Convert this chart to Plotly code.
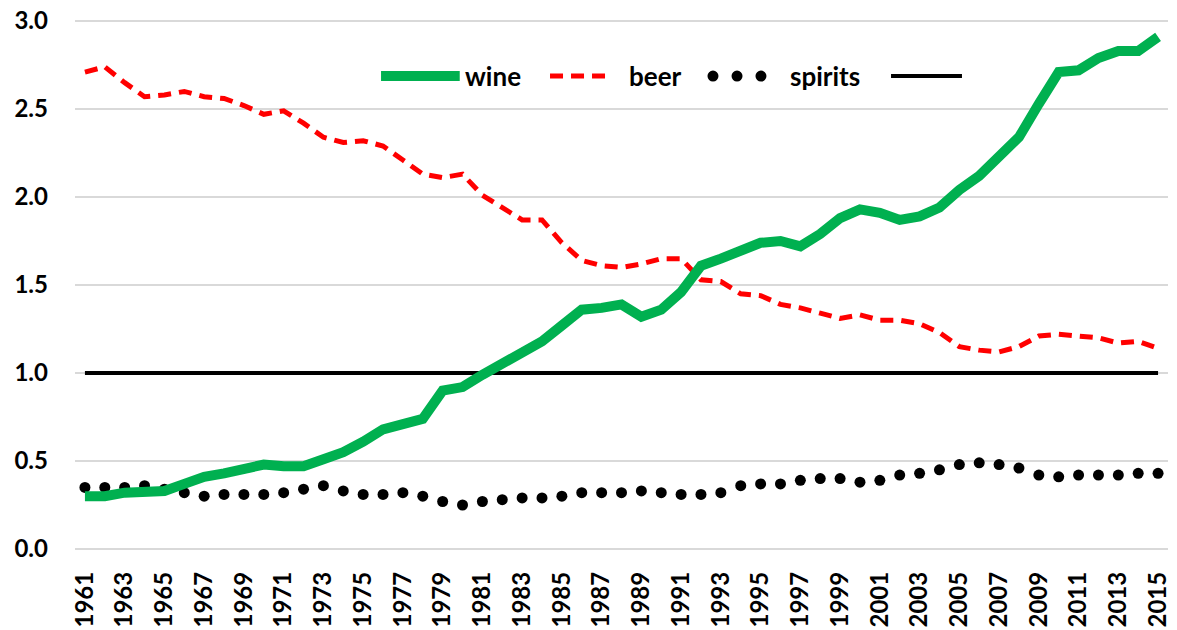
import plotly.graph_objects as go

years = list(range(1961, 2016))

wine = [0.30, 0.30, 0.32, 0.33, 0.33, 0.37, 0.41, 0.43, 0.46, 0.48,
        0.47, 0.47, 0.51, 0.55, 0.61, 0.68, 0.71, 0.74, 0.90, 0.92,
        0.99, 1.05, 1.11, 1.18, 1.27, 1.36, 1.37, 1.39, 1.32, 1.36,
        1.46, 1.61, 1.65, 1.69, 1.74, 1.75, 1.72, 1.79, 1.88, 1.93,
        1.91, 1.87, 1.89, 1.94, 2.04, 2.12, 2.24, 2.34, 2.53, 2.71,
        2.72, 2.79, 2.83, 2.83, 2.91]

beer = [2.71, 2.74, 2.65, 2.57, 2.58, 2.60, 2.57, 2.56, 2.52, 2.47,
        2.49, 2.42, 2.34, 2.31, 2.32, 2.29, 2.21, 2.13, 2.11, 2.13,
        2.01, 1.94, 1.87, 1.87, 1.74, 1.64, 1.61, 1.60, 1.62, 1.65,
        1.65, 1.53, 1.52, 1.45, 1.44, 1.39, 1.37, 1.34, 1.31, 1.33,
        1.30, 1.30, 1.28, 1.23, 1.15, 1.13, 1.12, 1.15, 1.21, 1.22,
        1.21, 1.20, 1.17, 1.18, 1.14]

spirits = [0.35, 0.35, 0.35, 0.36, 0.34, 0.32, 0.30, 0.31, 0.31, 0.31,
           0.32, 0.34, 0.36, 0.33, 0.31, 0.31, 0.32, 0.30, 0.27, 0.25,
           0.27, 0.28, 0.29, 0.29, 0.30, 0.32, 0.32, 0.32, 0.33, 0.32,
           0.31, 0.31, 0.32, 0.36, 0.37, 0.37, 0.39, 0.40, 0.40, 0.38,
           0.39, 0.42, 0.43, 0.45, 0.48, 0.49, 0.48, 0.46, 0.42, 0.41,
           0.42, 0.42, 0.42, 0.43, 0.43]

reference = [1.0] * len(years)

series_names = ["wine", "beer", "spirits", ""]

font_family = "Lato, 'Open Sans', sans-serif"
GREEN = "#00b050"
RED = "#ff0000"

fig = go.Figure()
fig.add_trace(go.Scatter(x=years, y=reference, mode="lines", name=" ",
                         line=dict(color="black", width=4)))
fig.add_trace(go.Scatter(x=years, y=spirits, mode="markers", name=series_names[2],
                         marker=dict(color="black", size=11)))
fig.add_trace(go.Scatter(x=years, y=beer, mode="lines", name=series_names[1],
                         line=dict(color=RED, width=5, dash="13px,8px")))
fig.add_trace(go.Scatter(x=years, y=wine, mode="lines", name=series_names[0],
                         line=dict(color=GREEN, width=10)))

# hand-drawn legend (long symbols like the original)
ly = 0.894
shapes = [
    dict(type="line", xref="paper", yref="paper", x0=0.280, x1=0.352, y0=ly, y1=ly,
         line=dict(color=GREEN, width=10)),
    dict(type="line", xref="paper", yref="paper", x0=0.4346, x1=0.4922, y0=ly, y1=ly,
         line=dict(color=RED, width=5, dash="13px,8px")),
    dict(type="line", xref="paper", yref="paper", x0=0.7466, x1=0.8115, y0=ly, y1=ly,
         line=dict(color="black", width=4)),
]
for dx in [0.5837, 0.6057, 0.6276]:
    shapes.append(dict(type="circle", xref="paper", yref="paper",
                       xsizemode="pixel", ysizemode="pixel",
                       xanchor=dx, yanchor=ly, x0=-5.5, x1=5.5, y0=-5.5, y1=5.5,
                       fillcolor="black", line=dict(width=0)))
annotations = []
for name, tx in zip(series_names[:3], [0.355, 0.505, 0.6523]):
    annotations.append(dict(text=name, xref="paper", yref="paper", x=tx, y=ly,
                            xanchor="left", yanchor="middle", showarrow=False,
                            font=dict(size=26, weight="bold", color="black")))

# the page adds an 8px body margin, so the figure is 8px smaller than the window
fig.update_layout(
    width=1169, height=622,
    margin=dict(l=67, r=9, t=12, b=81),
    paper_bgcolor="white", plot_bgcolor="white",
    font=dict(family=font_family, color="black", size=24, weight="bold"),
    showlegend=False,
    shapes=shapes,
    annotations=annotations,
)
fig.update_xaxes(range=[1960.5, 2015.5], tickvals=years[::2], tickangle=-90,
                 tickfont=dict(size=24, weight="bold"), showgrid=False,
                 showline=False, zeroline=False, ticks="", automargin=False,
                 ticklabelstandoff=17, ticklabeloverflow="allow")
fig.update_yaxes(range=[0, 3.006], tickvals=[0, 0.5, 1, 1.5, 2, 2.5, 3],
                 tickformat=".1f",
                 tickfont=dict(size=24, weight="bold"), showgrid=True,
                 gridcolor="#d9d9d9", gridwidth=1.5, zeroline=True,
                 zerolinecolor="#d9d9d9", zerolinewidth=1.5, ticks="",
                 automargin=False, ticklabelstandoff=26, ticklabeloverflow="allow")

fig.write_html("out.html")
